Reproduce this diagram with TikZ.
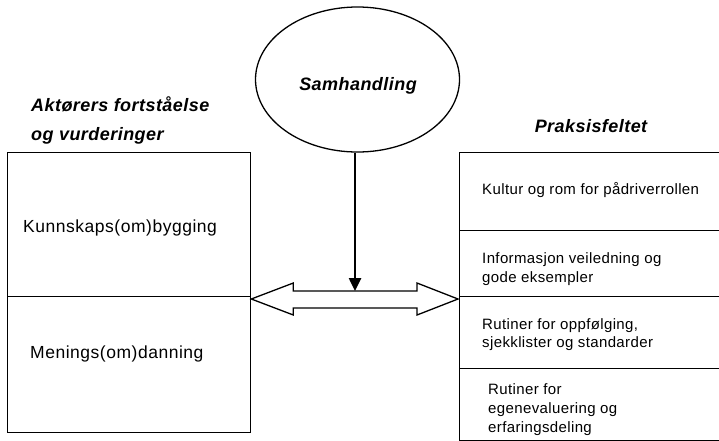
\documentclass[tikz,border=0pt]{standalone}
\usepackage{fontspec}
\setmainfont{Liberation Sans}
\usetikzlibrary{arrows.meta,calc,shapes.geometric}
\tikzset{
  boxline/.style={draw=black,line width=1.3pt},
  cell/.style={boxline,rectangle,inner sep=0pt,anchor=north west},
  heading/.style={inner sep=0pt,font=\fontsize{18}{22}\selectfont\bfseries\itshape\addfontfeatures{LetterSpace=2.5}},
  lefttext/.style={inner sep=0pt,anchor=west,font=\fontsize{17.5}{21}\selectfont\addfontfeatures{LetterSpace=3}},
  righttext/.style={inner sep=0pt,anchor=west,align=left,font=\fontsize{15}{18.7}\selectfont\addfontfeatures{LetterSpace=2.5}},
}
\begin{document}
\begin{tikzpicture}[x=1pt,y=-1pt]
\useasboundingbox[fill=white] (0,0) rectangle (719,440);
% ellipse
\node[boxline,ellipse,minimum width=204pt,minimum height=145pt,inner sep=0pt] (samh) at (357.5,79.5) {};
\node[heading] (samhtxt) at (358,86) {Samhandling};
% headings
\node[heading,anchor=west] (akt1) at (31,104) {Aktørers fortståelse};
\node[heading,anchor=west] (akt2) at (31,136) {og vurderinger};
\node[heading] (prak) at (591,126) {Praksisfeltet};
% left boxes
\node[cell,minimum width=243pt,minimum height=144pt] (kb) at (7,152) {};
\node[cell,minimum width=243pt,minimum height=136pt] (md) at (7,296) {};
\node[lefttext] (kbt) at (23,228) {Kunnskaps(om)bygging};
\node[lefttext] (mdt) at (30,354) {Menings(om)danning};
% right boxes
\node[cell,minimum width=270pt,minimum height=78pt] (r1) at (459,152) {};
\node[cell,minimum width=270pt,minimum height=66pt] (r2) at (459,230) {};
\node[cell,minimum width=270pt,minimum height=72pt] (r3) at (459,296) {};
\node[cell,minimum width=270pt,minimum height=71.5pt] (r4) at (459,368) {};
\node[righttext] (r1t) at (482,190) {Kultur og rom for pådriverrollen};
\node[righttext] (r2t) at (482,269) {Informasjon veiledning og\\gode eksempler};
\node[righttext] (r3t) at (482,334.5) {Rutiner for oppfølging,\\sjekklister og standarder};
\node[righttext] (r4t) at (488,409.5) {Rutiner for\\egenevaluering og\\erfaringsdeling};
% double arrow
\coordinate (la) at ($(md.north east)+(0,3)$);
\coordinate (ra) at ($(r3.north west)+(-1,3)$);
\draw[boxline,fill=white,line join=miter]
  (la) -- ($(la)+(42,-16)$) -- ($(la)+(42,-8)$) -- ($(ra)+(-41,-8)$) -- ($(ra)+(-41,-16)$)
  -- (ra) -- ($(ra)+(-41,16)$) -- ($(ra)+(-41,9)$) -- ($(la)+(42,9)$) -- ($(la)+(42,16)$) -- cycle;
% vertical arrow
\coordinate (atop) at (355,291);
\draw[line width=2.5pt,-{Triangle[length=13pt,width=12pt]}] (samh.south -| atop) -- (atop);
\end{tikzpicture}
\end{document}
